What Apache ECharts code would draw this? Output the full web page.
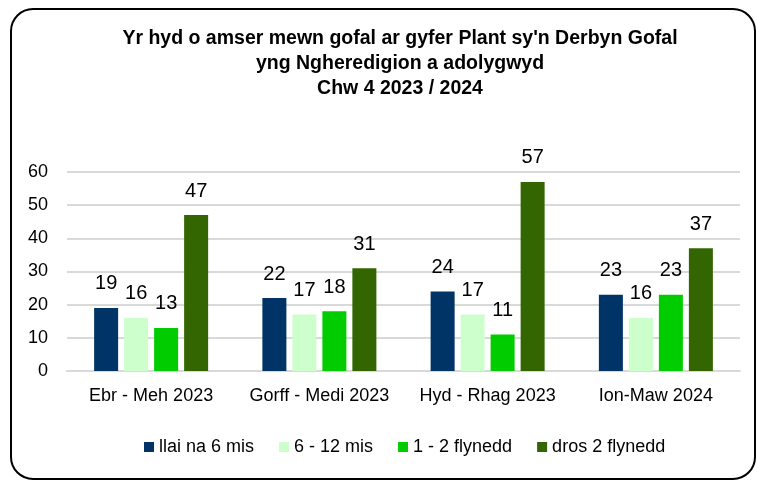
<!DOCTYPE html>
<html>
<head>
<meta charset="utf-8">
<script src="https://cdn.jsdelivr.net/npm/echarts@6/dist/echarts.min.js"></script>
<style>
html,body{margin:0;padding:0;background:#fff;}
#chart{width:758px;height:480px;}
</style>
</head>
<body>
<div id="chart"></div>
<script>
var categories = ['Ebr - Meh 2023', 'Gorff - Medi 2023', 'Hyd - Rhag 2023', 'Ion-Maw 2024'];
var seriesNames = ['llai na 6 mis', '6 - 12 mis', '1 - 2 flynedd', 'dros 2 flynedd'];
var llai6 = [19, 22, 24, 23];
var mis6i12 = [16, 17, 17, 16];
var flynedd1i2 = [13, 18, 11, 23];
var dros2 = [47, 31, 57, 37];
var colors = ['#003366', '#CCFFCC', '#00CC00', '#336600'];
var titleText = "Yr hyd o amser mewn gofal ar gyfer Plant sy'n Derbyn Gofal\nyng Ngheredigion a adolygwyd\nChw 4 2023 / 2024";

var font = 'Arial, "Liberation Sans", sans-serif';
var seriesData = [llai6, mis6i12, flynedd1i2, dros2];

var myChart = echarts.init(document.getElementById('chart'));
var series = [];
for (var i = 0; i < seriesData.length; i++) {
	series.push({
		name: seriesNames[i],
		type: 'bar',
		data: seriesData[i],
		barWidth: 24,
		barGap: '25%',
		itemStyle: {color: colors[i]},
		label: {
			show: true,
			position: 'top',
			distance: 14,
			color: '#000',
			fontSize: 20,
			fontFamily: font
		}
	});
}
var option = {
	animation: false,
	backgroundColor: '#fff',
	color: colors,
	graphic: [{
		type: 'rect',
		shape: {x: 11, y: 9, width: 744, height: 470, r: 22},
		style: {fill: 'none', stroke: '#000', lineWidth: 2}
	}],
	title: {
		text: titleText,
		left: 395,
		top: 21,
		textAlign: 'center',
		textStyle: {
			fontFamily: font,
			fontSize: 19.5,
			fontWeight: 'bold',
			color: '#000',
			lineHeight: 25
		}
	},
	legend: {
		data: seriesNames,
		left: 139,
		top: 433,
		icon: 'rect',
		itemWidth: 10,
		itemHeight: 10,
		itemGap: 25,
		textStyle: {fontFamily: font, fontSize: 18, color: '#000'}
	},
	grid: {left: 67, right: 18, top: 172, bottom: 109},
	xAxis: {
		type: 'category',
		data: categories,
		axisLine: {lineStyle: {color: '#d9d9d9', width: 2}},
		axisTick: {show: false},
		axisLabel: {interval: 0, fontFamily: font, fontSize: 18, color: '#000', margin: 16}
	},
	yAxis: {
		type: 'value',
		min: 0,
		max: 60,
		interval: 10,
		axisLine: {show: false},
		axisTick: {show: false},
		splitLine: {lineStyle: {color: '#d9d9d9', width: 2}},
		axisLabel: {fontFamily: font, fontSize: 18, color: '#000', margin: 19}
	},
	series: series
};
myChart.setOption(option);
</script>
</body>
</html>
